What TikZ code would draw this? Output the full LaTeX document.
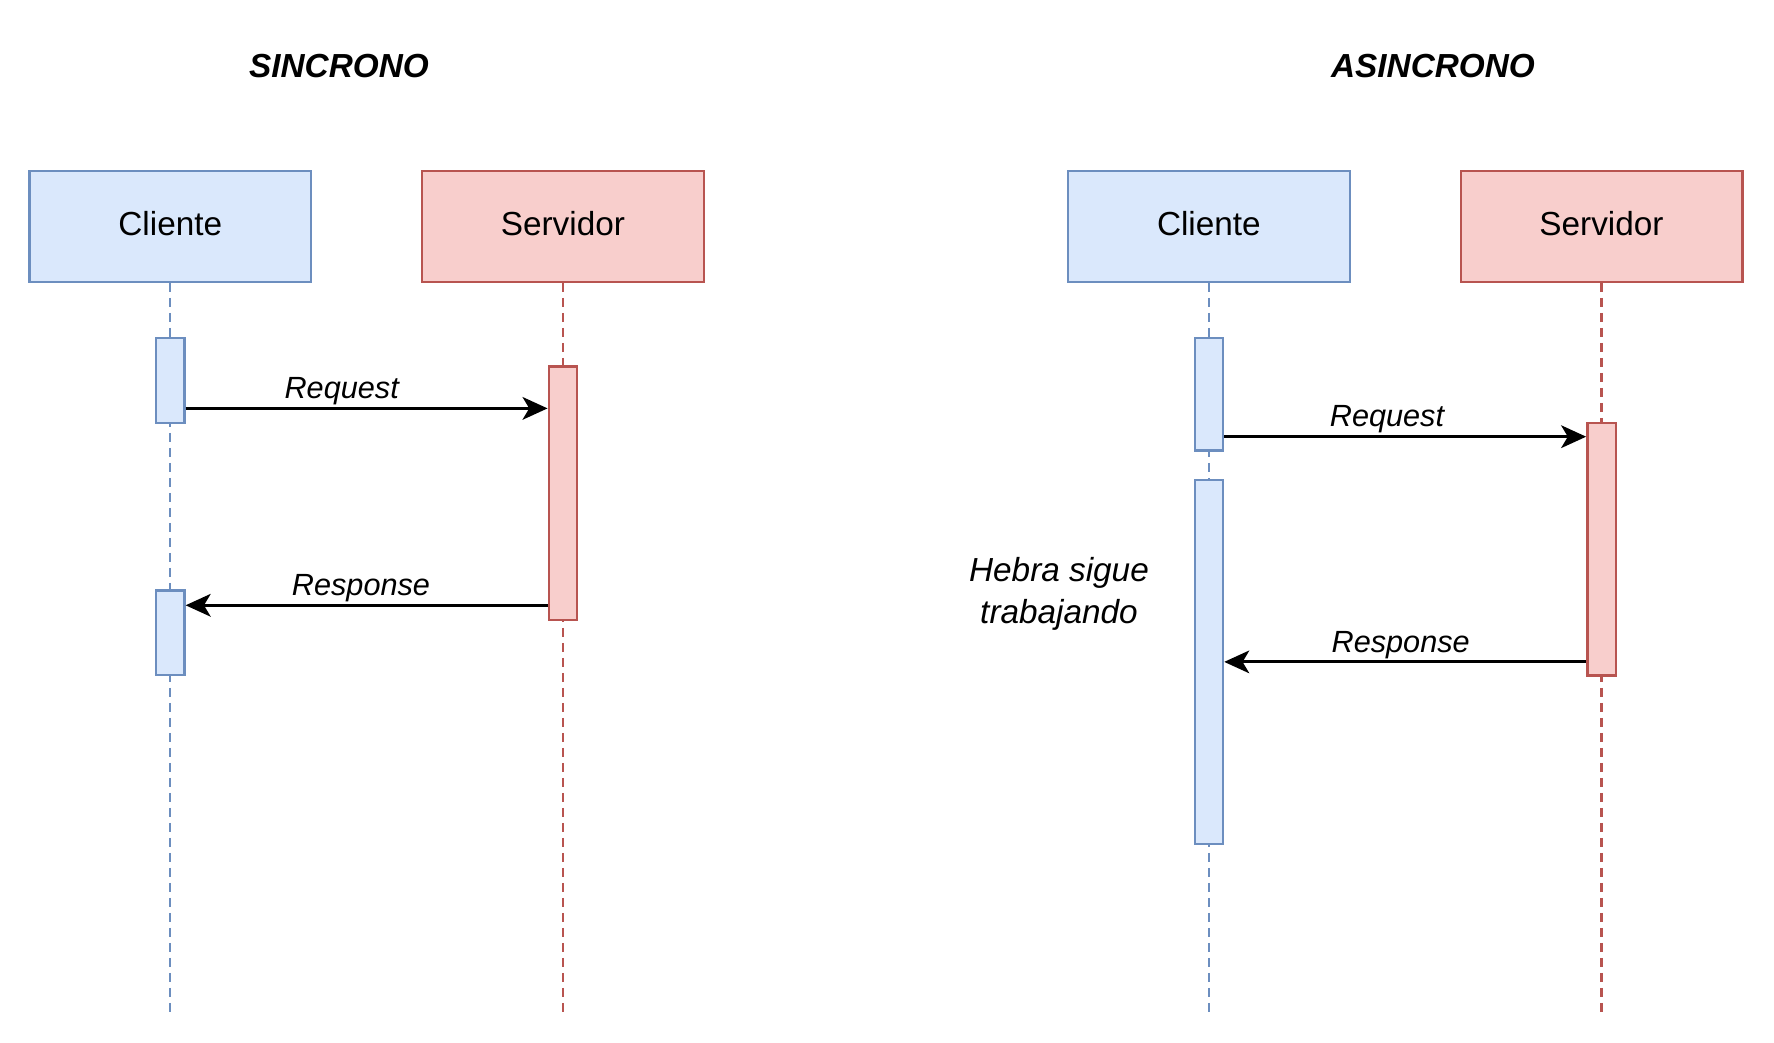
\documentclass[tikz,border=0pt]{standalone}
\usepackage{fontspec}
\setmainfont{Liberation Sans}
\usetikzlibrary{positioning,arrows.meta}
\pgfdeclarelayer{background}
\pgfsetlayers{background,main}

\definecolor{cliFill}{HTML}{DAE8FC}
\definecolor{cliLine}{HTML}{6C8EBF}
\definecolor{srvFill}{HTML}{F8CECC}
\definecolor{srvLine}{HTML}{B85450}

\tikzset{
	actor/.style={draw, line width=0.7pt, minimum width=84.5pt, minimum height=33.3pt, inner sep=0pt, font=\fontsize{10}{12}\selectfont},
	cli/.style={fill=cliFill, draw=cliLine},
	srv/.style={fill=srvFill, draw=srvLine},
	bar/.style={draw, line width=0.7pt, minimum width=8.5pt, inner sep=0pt},
	lifeline/.style={dashed, dash pattern=on 2.7pt off 1.8pt, line width=0.65pt},
	msg/.style={line width=0.9pt, -{Stealth[length=7.5pt, width=6.8pt, inset=2pt]}},
	msglabel/.style={inner sep=0pt, font=\fontsize{9.2}{11}\itshape},
	title/.style={inner sep=0pt, font=\fontsize{10}{12}\bfseries\itshape}
}

\begin{document}
\begin{tikzpicture}[x=0.3pt, y=-0.3pt]
				\useasboundingbox (0,0) rectangle (1774,1043);

				%Titles
				\node[title] (sTitle) at (339,66) {SINCRONO};
				\node[title] (aTitle) at (1433,66) {ASINCRONO};

				%Actors
				\node[actor, cli] (sCli) at (170.3,226.3) {\raisebox{2pt}{Cliente}};
				\node[actor, srv] (sSrv) at (562.9,226.3) {\raisebox{2pt}{Servidor}};
				\node[actor, cli] (aCli) at (1208.9,226.3) {\raisebox{2pt}{Cliente}};
				\node[actor, srv] (aSrv) at (1601.5,226.3) {\raisebox{2pt}{Servidor}};

				%Activations
				\node[bar, cli, minimum height=25.5pt] (sCliA) at (170.3,380.5) {};
				\node[bar, cli, minimum height=25.4pt] (sCliB) at (170.3,633) {};
				\node[bar, srv, minimum height=76pt] (sSrvA) at (562.9,493.3) {};
				\node[bar, cli, minimum height=33.7pt] (aCliA) at (1208.9,394.2) {};
				\node[bar, cli, minimum height=109.3pt] (aCliB) at (1208.9,661.9) {};
				\node[bar, srv, minimum height=75.7pt] (aSrvA) at (1601.5,549.2) {};

				%Lifelines
				\coordinate (sCliEnd) at (170.3,1012);
				\coordinate (sSrvEnd) at (562.9,1012);
				\coordinate (aCliEnd) at (1208.9,1012);
				\coordinate (aSrvEnd) at (1601.5,1012);
				\begin{pgfonlayer}{background}
					\draw[lifeline, cliLine] (sCli.south) -- (sCliEnd);
					\draw[lifeline, srvLine] (sSrv.south) -- (sSrvEnd);
					\draw[lifeline, cliLine] (aCli.south) -- (aCliEnd);
					\draw[lifeline, srvLine] (aSrv.south) -- (aSrvEnd);
				\end{pgfonlayer}

				%Messages
				\coordinate (sReq) at (0,408.4);
				\coordinate (sRes) at (0,605.3);
				\coordinate (aReq) at (0,436.7);
				\coordinate (aRes) at (0,661.9);
				\draw[msg] (sCliA.east |- sReq) -- (sSrvA.west |- sReq);
				\draw[msg] (sSrvA.west |- sRes) -- (sCliB.east |- sRes);
				\draw[msg] (aCliA.east |- aReq) -- (aSrvA.west |- aReq);
				\draw[msg] (aSrvA.west |- aRes) -- (aCliB.east |- aRes);

				%Labels
				\node[msglabel] (sReqL) at (341.7,391.5) {Request};
				\node[msglabel] (sResL) at (361,588.5) {Response};
				\node[msglabel] (aReqL) at (1387,419.5) {Request};
				\node[msglabel] (aResL) at (1400.7,645) {Response};
				\node[inner sep=0pt, align=center, font=\fontsize{10}{12.6}\itshape] (hebra) at (1059,594) {Hebra sigue\\trabajando};

			\end{tikzpicture}
\end{document}
